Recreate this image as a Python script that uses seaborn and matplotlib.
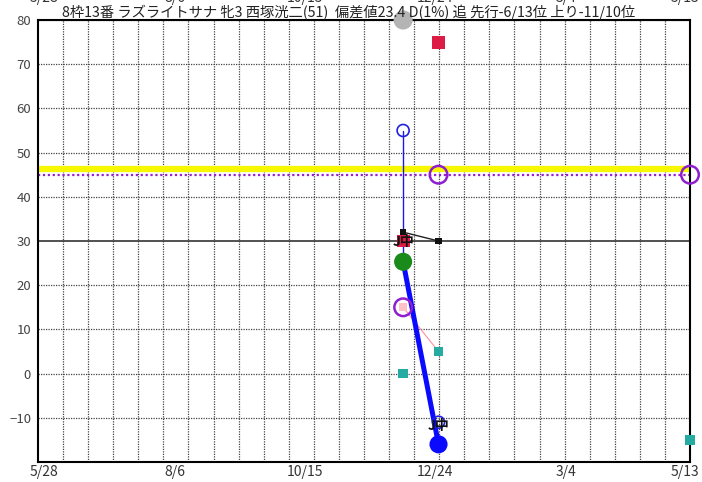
import numpy as np
import pandas as pd
import matplotlib
matplotlib.use("Agg")
import matplotlib.pyplot as plt
import matplotlib.dates as mdates
import matplotlib.transforms as mtransforms
import seaborn as sns

sns.set_theme(style="white")
plt.rcParams["font.family"] = ["Noto Sans CJK JP", "DejaVu Sans"]

# --- data ---
title = "8枠13番 ラズライトサナ 牝3 西塚洸二(51)  偏差値23.4 D(1%) 追 先行-6/13位 上り-11/10位"
x_start, x_end = "2024-05-28", "2025-05-13"
tick_dates = ["2024-05-28", "2024-08-06", "2024-10-15", "2024-12-24", "2025-03-04", "2025-05-13"]
tick_labels = ["5/28", "8/6", "10/15", "12/24", "3/4", "5/13"]
y_ticks = [-10, 0, 10, 20, 30, 40, 50, 60, 70, 80]

race_dates = ["2024-12-10", "2024-12-29"]
next_date = "2025-05-13"

gray_vals = [80]                 # at first race
red_vals = [30, 75]
blue_open_vals = [55, -11]
blue_thin_vals = [55, 25.3]      # vertical drop at first race
blue_vals = [25.3, -16]          # thick line between races
green_vals = [25.3]
black_vals = [32, 30]
pink_vals = [15, 5]
purple_vals = [15, 45, 45]       # two races + next race
teal_vals = [0, 5, -15]          # two races + next race
yellow_level = 46.2
purple_level = 45
base_level = 30
course_labels = ["J中", "J中"]
course_label_vals = [29.8, -11.9]

# --- frames ---
races = pd.to_datetime(race_dates)
all_dates = pd.to_datetime(race_dates + [next_date])
d_start, d_end = pd.Timestamp(x_start), pd.Timestamp(x_end)

fig = plt.figure(figsize=(7.02, 4.82), dpi=100)
ax = fig.add_axes([38 / 702, 20 / 482, 652 / 702, 442 / 482])

# grid: 26 vertical divisions, horizontal every 10
grid_x = np.linspace(mdates.date2num(d_start), mdates.date2num(d_end), 27)[1:-1]
for gx in grid_x:
    ax.axvline(gx, color="#444444", lw=0.9, ls=(0, (1, 1)), zorder=0)
for gy in y_ticks:
    if gy != base_level:
        ax.axhline(gy, color="#444444", lw=0.9, ls=(0, (1, 1)), zorder=0)

ax.axhline(yellow_level, color="#f7f700", lw=4.5, zorder=1)
ax.axhline(purple_level, color="#9a1fd0", lw=1.6, ls=(0, (1, 1.2)), zorder=2)
ax.axhline(base_level, color="#333333", lw=1.2, zorder=2)

# lines (estimator=None so repeated x values are drawn as-is)
line_kw = dict(sort=False, estimator=None, ax=ax)
sns.lineplot(x=[races[0], races[0]], y=blue_thin_vals, color="#1a1aee", lw=1.0,
             zorder=3, **line_kw)
sns.lineplot(x=races, y=black_vals, color="#222222", lw=1.0, zorder=3, **line_kw)
sns.lineplot(x=races, y=pink_vals, color="#ff8fa0", lw=0.8, zorder=3, **line_kw)
sns.lineplot(x=races, y=blue_vals, color="#0a0aff", lw=3.6, zorder=4, **line_kw)

# markers
def dots(x, y, **kw):
    sns.scatterplot(x=x, y=y, ax=ax, clip_on=False, **kw)

dots(races[:1], gray_vals, s=190, color="#b4b4b4", edgecolor="none", zorder=5)
dots(races, red_vals, marker="s", s=85, color="#dc1c44", edgecolor="none", zorder=5)
dots(races, black_vals, marker="s", s=22, color="#111111", edgecolor="none", zorder=6)
dots(races[:1], green_vals, s=170, color="#1a8a1a", edgecolor="none", zorder=6)
dots(races[:1], pink_vals[:1], marker="s", s=30, color="#ffc0c8", edgecolor="none", zorder=6)
dots(all_dates, purple_vals, s=160, facecolor="none", edgecolor="#8e1ecf", linewidth=1.8, zorder=7)
dots(all_dates, teal_vals, marker="s", s=45, color="#26aba3", edgecolor="none", zorder=6)
dots(races, blue_open_vals, s=75, facecolor="none", edgecolor="#2020dd", linewidth=1.2, zorder=7)
dots(races[1:], blue_vals[1:], s=170, color="#0a0aff", edgecolor="none", zorder=7)

for d, v, lab in zip(races, course_label_vals, course_labels):
    ax.text(d, v, lab, ha="center", va="center", fontsize=10, color="#111111",
            fontweight="bold", zorder=8)

# axes
ax.set_xlim(d_start, d_end)
ax.set_ylim(-20, 80)
ax.set_xticks(pd.to_datetime(tick_dates))
ax.set_xticklabels(tick_labels)
ax.set_yticks(y_ticks)
ax.tick_params(axis="x", length=0, pad=2, labelsize=10, labelcolor="#333333")
ax.tick_params(axis="y", length=0, pad=5, labelsize=9.5, labelcolor="#444444")
ax.set_xlabel("")
ax.set_ylabel("")
for sp in ax.spines.values():
    sp.set_color("black")
    sp.set_linewidth(1.5)

# date labels repeated along the top, mostly cut off by the image edge as in the source
top = ax.secondary_xaxis("top")
top.set_xticks(pd.to_datetime(tick_dates))
top.set_xticklabels(tick_labels)
top.tick_params(length=0, pad=11, labelsize=10, labelcolor="#333333")
top.spines["top"].set_visible(False)

# the source draws its date labels a few pixels right of the tick; last one pulled inside
shift = mtransforms.ScaledTranslation(6 / 100, 0, fig.dpi_scale_trans)
shift_last = mtransforms.ScaledTranslation(-5 / 100, 0, fig.dpi_scale_trans)
for axis in (ax.xaxis, top.xaxis):
    ticks = axis.get_major_ticks()
    for i, t in enumerate(ticks):
        off = shift_last if i == len(ticks) - 1 else shift
        for lab in (t.label1, t.label2):
            lab.set_transform(lab.get_transform() + off)

fig.text(349 / 702, 1 - 12 / 482, title, ha="center", va="center", fontsize=10.3, color="#222222")

fig.savefig("out.png", dpi=100)
